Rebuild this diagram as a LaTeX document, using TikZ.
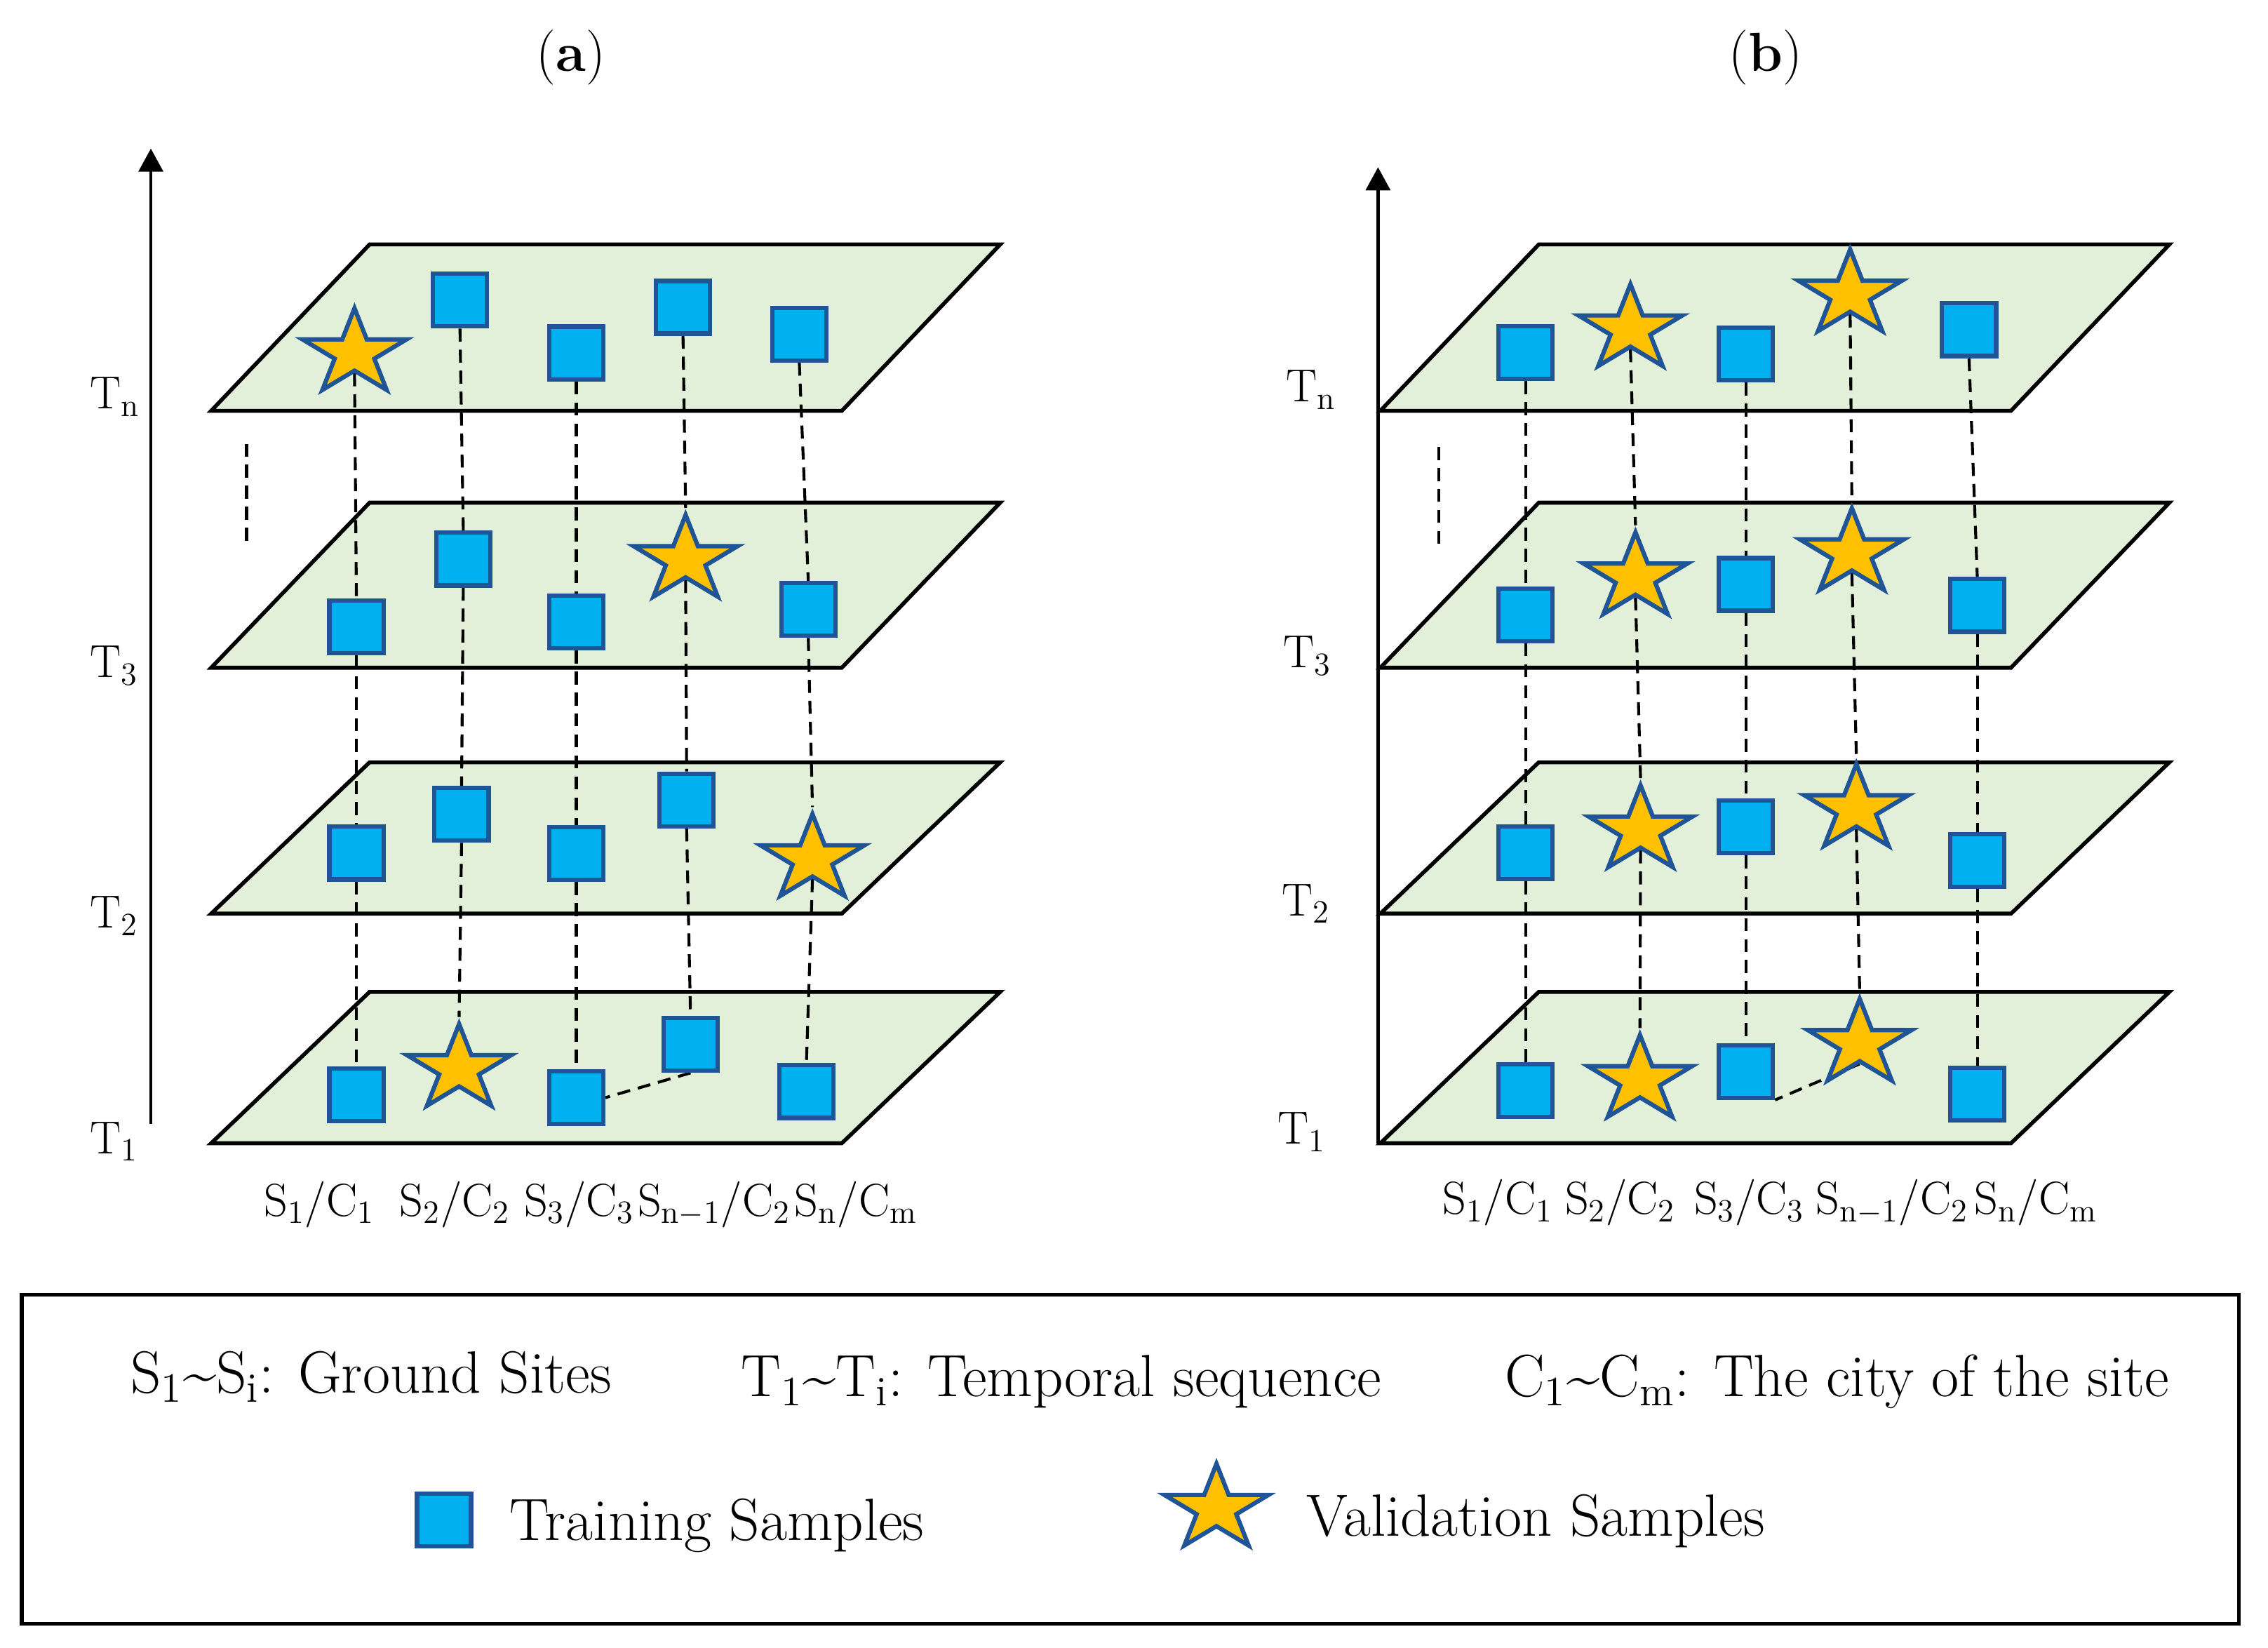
\documentclass[tikz,border=0pt]{standalone}
\usetikzlibrary{shapes.geometric,arrows.meta}
\definecolor{planefill}{HTML}{E2F0D9}
\definecolor{sqfill}{HTML}{00B0F0}
\definecolor{starfill}{HTML}{FFC000}
\definecolor{mkline}{HTML}{1F5597}
\newcommand\ssb[1]{\textsubscript{#1}}
\pgfdeclarelayer{planes}
\pgfdeclarelayer{links}
\pgfsetlayers{planes,links,main}
\begin{document}
\begin{tikzpicture}[x=0.5pt,y=-0.5pt,
  plane/.style={draw=black, fill=planefill, line width=1.35pt, line join=miter},
  trainsq/.style={rectangle, draw=mkline, fill=sqfill, line width=1.5pt, minimum width=18.7pt, minimum height=18.2pt, inner sep=0pt},
  valstar/.style={star, star points=5, star point ratio=2.618, draw=mkline, fill=starfill, line width=1.5pt, minimum size=31.2pt, inner sep=0pt, xscale=1.21},
  link/.style={draw=black, line width=1pt, dash pattern=on 4.5pt off 2.75pt},
  axisline/.style={line width=1.15pt, -{Triangle[length=8pt,width=8.4pt]}},
  lbl/.style={font=\fontsize{16pt}{19pt}\selectfont, inner sep=0pt},
  leg/.style={font=\fontsize{20.6pt}{24pt}\selectfont, inner sep=0pt, anchor=base west},
  ttl/.style={font=\fontsize{19pt}{22pt}\selectfont, inner sep=0pt, anchor=base}]
\useasboundingbox (0,0) rectangle (1568,1139);

% planes
\begin{pgfonlayer}{planes}
\foreach \dx in {0,808.3}{
  \foreach \t/\b in {169/284, 347.5/461.6, 527/631.6, 685.7/790.3}{
    \path[plane] (146+\dx,\b) -- (582+\dx,\b) -- (691.5+\dx,\t) -- (255.5+\dx,\t) -- cycle;
  }
}
\end{pgfonlayer}

% titles
\node[ttl] (ta) at (394.8,49.3) {(\textbf{a})};
\node[ttl] (tb) at (1220.5,49.3) {(\textbf{b})};

% axes
\coordinate (axa0) at (104.3,777);
\coordinate (axa1) at (104.3,102.7);
\draw[axisline] (axa0) -- (axa1);
\coordinate (axb0) at (952.7,790.3);
\coordinate (axb1) at (952.7,115.6);
\draw[axisline] (axb0) -- (axb1);

% ellipsis dashes
\coordinate (ela0) at (170.5,306.8);
\coordinate (ela1) at (170.5,375.5);
\draw[link] (ela0) -- (ela1);
\coordinate (elb0) at (994.6,309);
\coordinate (elb1) at (994.6,377);
\draw[link] (elb0) -- (elb1);

% T labels
\node[lbl, anchor=base west] (tan) at (62,282.6) {T\ssb{n}};
\node[lbl, anchor=base west] (ta3) at (62,468.2) {T\ssb{3}};
\node[lbl, anchor=base west] (ta2) at (62,641.5) {T\ssb{2}};
\node[lbl, anchor=base west] (ta1) at (62,797.4) {T\ssb{1}};
\node[lbl, anchor=base west] (tbn) at (889,277.8) {T\ssb{n}};
\node[lbl, anchor=base west] (tb3) at (886.7,461.5) {T\ssb{3}};
\node[lbl, anchor=base west] (tb2) at (886,633) {T\ssb{2}};
\node[lbl, anchor=base west] (tb1) at (883,791) {T\ssb{1}};

% S labels
\node[lbl, anchor=base] (sa1) at (220.7,840.5) {S\ssb{1}/C\ssb{1}};
\node[lbl, anchor=base] (sa2) at (314.5,840.5) {S\ssb{2}/C\ssb{2}};
\node[lbl, anchor=base] (sa3) at (400.5,840.5) {S\ssb{3}/C\ssb{3}};
\node[lbl, anchor=base] (sa4) at (493.7,840.5) {S\ssb{n$-$1}/C\ssb{2}};
\node[lbl, anchor=base] (sa5) at (591.9,840.5) {S\ssb{n}/C\ssb{m}};
\node[lbl, anchor=base] (sb1) at (1035.5,839.4) {S\ssb{1}/C\ssb{1}};
\node[lbl, anchor=base] (sb2) at (1120.2,839.4) {S\ssb{2}/C\ssb{2}};
\node[lbl, anchor=base] (sb3) at (1209.5,839.4) {S\ssb{3}/C\ssb{3}};
\node[lbl, anchor=base] (sb4) at (1308.1,839.4) {S\ssb{n$-$1}/C\ssb{2}};
\node[lbl, anchor=base] (sb5) at (1407.6,839.4) {S\ssb{n}/C\ssb{m}};

% panel (a) markers
\node[valstar] (an1) at (245.1,244.3) {};
\node[trainsq] (an2) at (318,207.5) {};
\node[trainsq] (an3) at (398.4,244) {};
\node[trainsq] (an4) at (472.2,212.4) {};
\node[trainsq] (an5) at (552.6,231) {};

\node[trainsq] (a31) at (246.4,433.2) {};
\node[trainsq] (a32) at (320.3,386.5) {};
\node[trainsq] (a33) at (398.4,430) {};
\node[valstar] (a34) at (474,387.2) {};
\node[trainsq] (a35) at (558.8,421.3) {};

\node[trainsq] (a21) at (246.4,589.7) {};
\node[trainsq] (a22) at (319.1,563) {};
\node[trainsq] (a23) at (398.4,590) {};
\node[trainsq] (a24) at (474.7,553) {};
\node[valstar] (a25) at (561.7,594) {};

\node[trainsq] (a11) at (246.4,757) {};
\node[valstar] (a12) at (317.4,739.1) {};
\node[trainsq] (a13) at (398.4,758.8) {};
\node[trainsq] (a14) at (477.4,722) {};
\node[trainsq] (a15) at (557.5,754.6) {};

% panel (b) markers
\node[trainsq] (bn1) at (1054.7,243.7) {};
\node[valstar] (bn2) at (1127.2,227.7) {};
\node[trainsq] (bn3) at (1207,244.8) {};
\node[valstar] (bn4) at (1279.1,203.6) {};
\node[trainsq] (bn5) at (1361.3,227.9) {};

\node[trainsq] (b31) at (1054.7,425) {};
\node[valstar] (b32) at (1130.7,399.2) {};
\node[trainsq] (b33) at (1207,404) {};
\node[valstar] (b34) at (1280.3,382.5) {};
\node[trainsq] (b35) at (1367,418.5) {};

\node[trainsq] (b21) at (1054.7,589.6) {};
\node[valstar] (b22) at (1134.2,574.1) {};
\node[trainsq] (b23) at (1207,571.5) {};
\node[valstar] (b24) at (1283.4,559.4) {};
\node[trainsq] (b25) at (1367,595) {};

\node[trainsq] (b11) at (1054.7,754) {};
\node[valstar] (b12) at (1133.8,746.7) {};
\node[trainsq] (b13) at (1207,740.7) {};
\node[valstar] (b14) at (1285.7,721.7) {};
\node[trainsq] (b15) at (1367,756.3) {};

% links
\begin{pgfonlayer}{links}
\foreach \p in {a,b}{
  \foreach \s in {1,...,5}{
    \draw[link] (\p n\s.south) -- (\p 3\s.north);
    \draw[link] (\p 3\s.south) -- (\p 2\s.north);
    \draw[link] (\p 2\s.south) -- (\p 1\s.north);
  }
}
\draw[link] (a14.south) -- (a13.east);
\draw[link] (b14.south) -- (b13.south east);
\end{pgfonlayer}

% legend
\draw[line width=1.27pt] (15,895) rectangle (1548,1122.4);
\node[leg] (l1) at (90,962.8) {S\ssb{1}\textasciitilde S\ssb{i}: Ground Sites};
\node[leg] (l2) at (512,965.4) {T\ssb{1}\textasciitilde T\ssb{i}: Temporal sequence};
\node[leg] (l3) at (1040,965.4) {C\ssb{1}\textasciitilde C\ssb{m}: The city of the site};
\node[trainsq] (legsq) at (307,1050.8) {};
\node[leg] (l4) at (352,1064.6) {Training Samples};
\node[valstar] (legstar) at (841,1043.1) {};
\node[leg] (l5) at (903,1062) {Validation Samples};
\end{tikzpicture}
\end{document}
